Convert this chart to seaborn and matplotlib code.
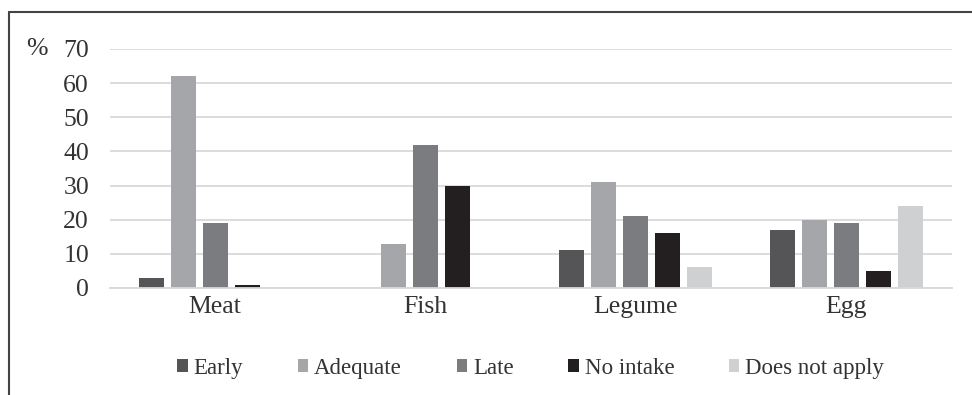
import pandas as pd
import matplotlib.pyplot as plt
import seaborn as sns
from matplotlib.lines import Line2D

foods = ['Meat', 'Fish', 'Legume', 'Egg']
timing = ['Early', 'Adequate', 'Late', 'No intake', 'Does not apply']
early = [3, 0, 11, 17]
adequate = [62, 13, 31, 20]
late = [19, 42, 21, 19]
no_intake = [1, 30, 16, 5]
not_apply = [0, 0, 6, 24]
yticks = [0, 10, 20, 30, 40, 50, 60, 70]

colors = ['#555558', '#a5a6a9', '#7b7c80', '#231f20', '#cfd0d2']

df = pd.DataFrame({'food': foods, 'Early': early, 'Adequate': adequate, 'Late': late,
                   'No intake': no_intake, 'Does not apply': not_apply})
df = df.melt(id_vars='food', var_name='timing', value_name='pct')

sns.set_theme(style='white')
plt.rcParams['font.family'] = ['Liberation Serif', 'DejaVu Serif']

fig = plt.figure(figsize=(9.72, 3.95), dpi=100)
ax = fig.add_axes([0.113, 0.271, 0.866, 0.605])

sns.barplot(data=df, x='food', y='pct', hue='timing', hue_order=timing, order=foods,
            palette=colors, width=0.76, gap=0.22, linewidth=0, saturation=1, ax=ax)

ax.set_ylim(0, 70)
ax.set_yticks(yticks)
ax.yaxis.grid(True, color='#d9d9d9', linewidth=1.3)
ax.set_axisbelow(True)
for s in ['left', 'right', 'top']:
    ax.spines[s].set_visible(False)
ax.spines['bottom'].set_color('#d9d9d9')
ax.spines['bottom'].set_linewidth(1.3)
ax.tick_params(axis='both', length=0, labelsize=18.5, colors='#333333')
ax.tick_params(axis='x', pad=6)
ax.tick_params(axis='y', pad=15)
ax.set_xlabel('')
ax.set_ylabel('')
ax.text(-0.074, 1.0, '%', transform=ax.transAxes, fontsize=18.5, color='#333333',
        ha='right', va='center')

handles, labels = ax.get_legend_handles_labels()
ax.legend(handles, labels, loc='upper center', bbox_to_anchor=(0.5, -0.205), ncol=5,
          frameon=False, fontsize=16.5, handlelength=0.45, handleheight=0.45,
          handletextpad=0.25, columnspacing=2.4, labelcolor='#333333')

# outer frame (left and top only, as cropped in the original)
fig.add_artist(Line2D([0.0095, 0.0095], [0, 0.97], transform=fig.transFigure,
                      color='#444444', linewidth=1.5))
fig.add_artist(Line2D([0.0095, 1.0], [0.97, 0.97], transform=fig.transFigure,
                      color='#444444', linewidth=1.5))

fig.savefig('out.png', dpi=100)
